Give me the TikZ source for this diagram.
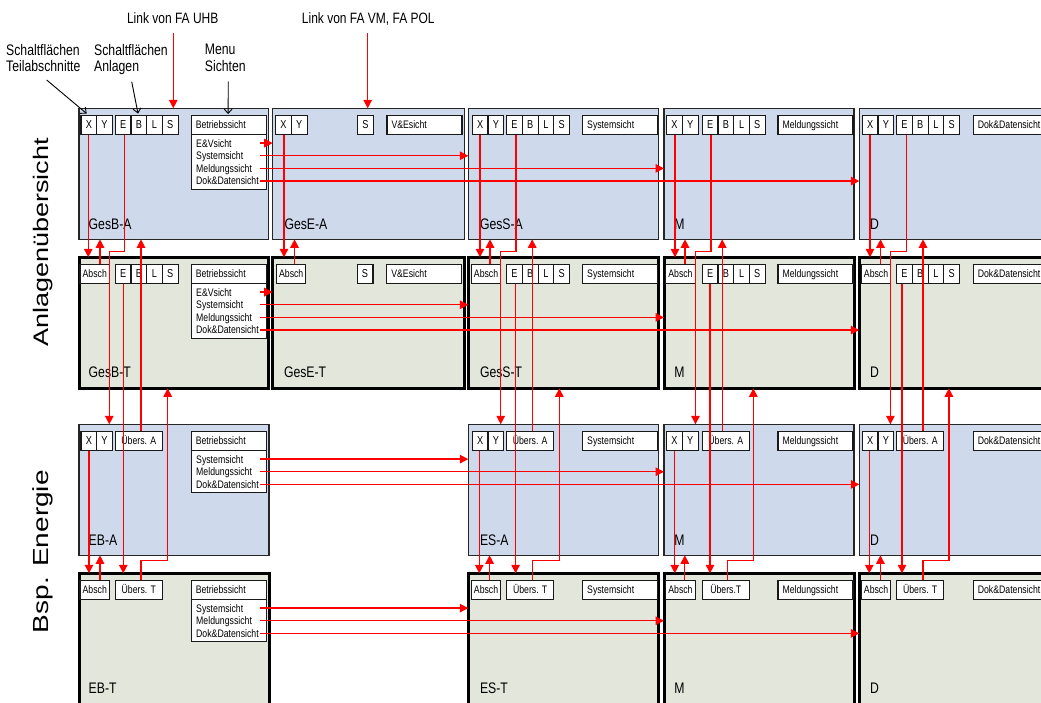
\documentclass[tikz,border=0pt]{standalone}
\usepackage{fontspec}
\usepackage{graphicx}
\setmainfont[FakeStretch=0.8]{Liberation Sans}
\newfontfamily\uprightsans{Liberation Sans}
\usetikzlibrary{arrows.meta}

\definecolor{paneblue}{RGB}{206,217,236}
\definecolor{panegray}{RGB}{226,230,219}
\definecolor{linkred}{RGB}{255,0,0}

\tikzset{
  panelA/.style={draw=black!85, line width=1.4pt, fill=paneblue, anchor=north west,
    minimum height=131pt, inner sep=0pt, outer sep=0pt},
  panelT/.style={draw=black, line width=3pt, fill=panegray, anchor=north west,
    minimum height=131pt, inner sep=0pt, outer sep=0pt},
  btn/.style={draw=black!90, line width=1.2pt, fill=white, anchor=west,
    minimum height=19.5pt, minimum width=15.7pt, inner sep=0pt, outer sep=0pt,
    font=\fontsize{11.5}{11.5}\selectfont, text height=8.2pt, text depth=0pt},
  smallbtn/.style={btn, font=\fontsize{10.9}{10.9}\selectfont, text height=7.8pt},
  menuhd/.style={smallbtn, inner xsep=4.5pt, text width=66pt, align=left},
  listbox/.style={draw=black!90, line width=1.2pt, fill=white, anchor=north west,
    minimum width=75pt, inner sep=0pt, outer sep=0pt},
  menuitem/.style={anchor=west, inner sep=0pt, font=\fontsize{10.9}{10.9}\selectfont,
    text height=7.8pt, text depth=0pt},
  paneltitle/.style={anchor=base west, inner sep=0pt, font=\fontsize{15.3}{15.3}\selectfont},
  helpnote/.style={anchor=north west, inner sep=0pt, align=left,
    font=\fontsize{15.3}{16.4}\selectfont},
  linknote/.style={anchor=base, inner sep=0pt, font=\fontsize{15}{15}\selectfont},
  rowlabel/.style={rotate=90, anchor=base, inner sep=0pt},
  rarr/.style={draw=linkred, line width=1.3pt, -{Triangle[length=8.5pt,width=8.5pt]}},
  karr/.style={draw=black, line width=0.9pt, -{Straight Barb[length=4.5pt,width=8pt]}},
}

\begin{document}
\begin{tikzpicture}[x=1pt, y=-1pt]
\useasboundingbox (0,0) rectangle (1041,702);
\clip (0,0) rectangle (1041,702);

% row group labels
\node[rowlabel] (lblA) at (48.3,242.5)
  {\scalebox{1}[0.78]{\uprightsans\fontsize{27}{27}\selectfont Anlagenübersicht}};
\node[rowlabel] (lblE) at (48.3,551.7)
  {\scalebox{1}[0.78]{\uprightsans\fontsize{28}{28}\selectfont Bsp. Energie}};

% screens: overview (A) and detail (T)
\foreach \col/\L/\W in {1/79/189.7, 2/272.7/191.6, 3/468.3/190, 4/664/190, 5/859.3/190}{
  \node[panelA, minimum width=\W pt] (p1\col) at (\L,108.3) {};
  \node[panelT, minimum width=\W pt] (p2\col) at (\L,257.3) {};
}
\foreach \col/\L in {1/79, 3/468.3, 4/664, 5/859.3}{
  \node[panelA, minimum width=190pt] (p3\col) at (\L,424.3) {};
  \node[panelT, minimum width=190pt] (p4\col) at (\L,573.3) {};
}

% buttons, menu headers and titles
\foreach \col/\X/\E/\M/\V/\ta/\tb/\tc/\td/\ut in {
  1/81/115.3/191.3/Betriebssicht/GesB-A/GesB-T/EB-A/EB-T/{Übers. T},
  3/472.3/506.7/582.7/Systemsicht/GesS-A/GesS-T/ES-A/ES-T/{Übers. T},
  4/666.7/702.3/778/Meldungssicht/M/M/M/M/{Übers.T},
  5/862.3/896.7/973.3/Dok\&Datensicht/D/D/D/D/{Übers. T}}{
  % row 1
  \node[btn] (x1\col) at (\X,124.85) {X};
  \node[btn] (y1\col) at ({\X+15.7},124.85) {Y};
  \node[btn] (e1\col) at (\E,124.85) {E};
  \node[btn] (b1\col) at ({\E+15.7},124.85) {B};
  \node[btn] (l1\col) at ({\E+31.4},124.85) {L};
  \node[btn] (s1\col) at ({\E+47.1},124.85) {S};
  \node[menuhd] (m1\col) at (\M,124.85) {\V};
  \node[paneltitle] (t1\col) at ({\X+7.5},229.3) {\ta};
  % row 2
  \node[smallbtn, minimum width=29.5pt] (a2\col) at ({\X-1},273.85) {Absch};
  \node[btn] (e2\col) at (\E,273.85) {E};
  \node[btn] (b2\col) at ({\E+15.7},273.85) {B};
  \node[btn] (l2\col) at ({\E+31.4},273.85) {L};
  \node[btn] (s2\col) at ({\E+47.1},273.85) {S};
  \node[menuhd] (m2\col) at (\M,273.85) {\V};
  \node[paneltitle] (t2\col) at ({\X+7.5},377.8) {\tb};
  % row 3
  \node[btn] (x3\col) at (\X,440.85) {X};
  \node[btn] (y3\col) at ({\X+15.7},440.85) {Y};
  \node[smallbtn, minimum width=47pt] (u3\col) at (\E,440.85) {Übers. A};
  \node[menuhd] (m3\col) at (\M,440.85) {\V};
  \node[paneltitle] (t3\col) at ({\X+7.5},545) {\tc};
  % row 4
  \node[smallbtn, minimum width=29.5pt] (a4\col) at ({\X-1},589.85) {Absch};
  \node[smallbtn, minimum width=47pt] (u4\col) at (\E,589.85) {\ut};
  \node[menuhd] (m4\col) at (\M,589.85) {\V};
  \node[paneltitle] (t4\col) at ({\X+7.5},693.8) {\td};
}

% column 2 (E/V screens)
\node[btn] (x12) at (275.7,124.85) {X};
\node[btn] (y12) at (291.4,124.85) {Y};
\node[btn] (s12) at (357.7,124.85) {S};
\node[menuhd] (m12) at (387,124.85) {V\&Esicht};
\node[paneltitle] (t12) at (284.3,229.3) {GesE-A};
\node[smallbtn, minimum width=29pt] (a22) at (276.7,273.85) {Absch};
\node[btn] (s22) at (357.2,273.85) {S};
\node[menuhd] (m22) at (386.8,273.85) {V\&Esicht};
\node[paneltitle] (t22) at (283.8,377.8) {GesE-T};

% drop-down view menus
\foreach \r/\top in {1/134.6, 2/283.6}{
  \node[listbox, minimum height=55pt] (lst\r) at (191.3,\top) {};
  \foreach \k/\txt in {1/E\&Vsicht, 2/Systemsicht, 3/Meldungssicht, 4/Dok\&Datensicht}{
    \node[menuitem] (i\r\k) at (196,{\top+8.5+12.65*(\k-1)}) {\txt};
  }
}
\foreach \r/\top in {3/450.6, 4/599.6}{
  \node[listbox, minimum height=42pt] (lst\r) at (191.3,\top) {};
  \foreach \k/\txt in {2/Systemsicht, 3/Meldungssicht, 4/Dok\&Datensicht}{
    \node[menuitem] (i\r\k) at (196,{\top+8.5+12.65*(\k-2)}) {\txt};
  }
}

% menu links to the other views
\foreach \r in {1,2}{
  \foreach \k/\tgt in {1/2, 2/3, 3/4, 4/5}{
    \draw[rarr] (260,0 |- i\r\k.west) -- (p\r\tgt.west |- i\r\k.west);
  }
}
\foreach \r in {3,4}{
  \foreach \k/\tgt in {2/3, 3/4, 4/5}{
    \draw[rarr] (260,0 |- i\r\k.west) -- (p\r\tgt.west |- i\r\k.west);
  }
}

% button links between screens of one column
\foreach \col/\xa/\xb/\xca/\xcb/\xd/\xe/\xfa/\xfb/\xg/\xh in {
  1/88.3/100/124.3/109.3/141/123.3/141/167.7/89/100,
  3/480/490/516/500.7/532.2/515.6/532.2/559.3/479.3/489.6,
  4/675/685/711/695.5/722.2/710/727.4/753.3/674.8/684.8,
  5/870/880.5/906.2/890.4/923/902/923/948.9/869.3/880.4}{
  \draw[rarr] (\xa,0 |- x1\col.south) -- (\xa,0 |- p2\col.north);
  \draw[rarr] (\xb,0 |- a2\col.north) -- (\xb,0 |- p1\col.south);
  \draw[rarr] (\xca,0 |- e1\col.south) -- (\xca,251.7) -- (\xcb,251.7) -- (\xcb,0 |- p3\col.north);
  \draw[rarr] (\xd,0 |- u3\col.north) -- (\xd,0 |- p1\col.south);
  \draw[rarr] (\xe,0 |- e2\col.south) -- (\xe,0 |- p4\col.north);
  \draw[rarr] (\xfa,0 |- u4\col.north) -- (\xfa,560.7) -- (\xfb,560.7) -- (\xfb,0 |- p2\col.south);
  \draw[rarr] (\xg,0 |- x3\col.south) -- (\xg,0 |- p4\col.north);
  \draw[rarr] (\xh,0 |- a4\col.north) -- (\xh,0 |- p3\col.south);
}
\draw[rarr] (284,0 |- x12.south) -- (284,0 |- p22.north);
\draw[rarr] (294.5,0 |- a22.north) -- (294.5,0 |- p12.south);

% external links
\node[linknote] (lk1) at (172.7,23.3) {Link von FA UHB};
\node[linknote] (lk2) at (368.3,23.3) {Link von FA VM, FA POL};
\coordinate (lk1e) at (173.3,33);
\coordinate (lk2e) at (367.7,33);
\draw[rarr] (lk1e) -- (lk1e |- p11.north);
\draw[rarr] (lk2e) -- (lk2e |- p12.north);

% explanatory notes
\node[helpnote] (h1) at (6,44) {Schaltflächen\\Teilabschnitte};
\node[helpnote] (h2) at (94,44) {Schaltflächen\\Anlagen};
\node[helpnote] (h3) at (204.7,44) {Menu\\Sichten};
\coordinate (h1e) at (46.7,80);
\coordinate (h2e) at (131.7,81.7);
\coordinate (h3e) at (228.3,81.7);
\draw[karr] (h1e) -- ([xshift=5.7pt,yshift=1.5pt]x11.north west);
\draw[karr] (h2e) -- ([xshift=-0.8pt,yshift=1.5pt]b11.north);
\draw[karr] (h3e) -- ([xshift=-0.7pt,yshift=1pt]m11.north);
\end{tikzpicture}
\end{document}
